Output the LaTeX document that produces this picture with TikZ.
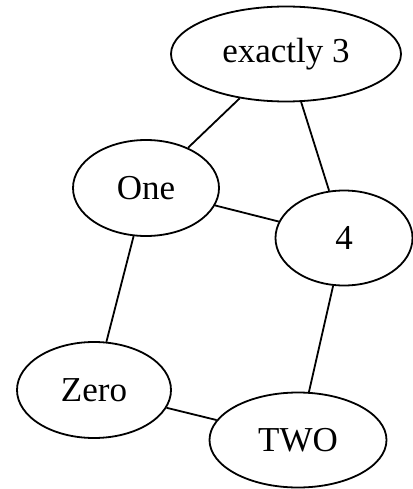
\documentclass[tikz,border=0pt]{standalone}
\usepackage{fontspec}
\setmainfont{Liberation Serif}
\usetikzlibrary{shapes.geometric}
\tikzset{
	blob/.style={draw, ellipse, line width=1.8pt, inner sep=0pt, font=\fontsize{35}{40}\selectfont},
	link/.style={line width=1.8pt}
}

\begin{document}
\begin{tikzpicture}[x=1pt, y=-1pt]
			%%%%% START %%%%%
			\useasboundingbox (0, 0) rectangle (412, 489);
			\fill[white] (0, 0) rectangle (412, 489);
			
			\node[blob, minimum width=230, minimum height=95] (three) at (286, 54) {exactly 3};
			\node[blob, minimum width=146, minimum height=96] (one) at (146, 188) {One};
			\node[blob, minimum width=137, minimum height=95] (four) at (344, 238) {4};
			\node[blob, minimum width=154, minimum height=96] (zero) at (94, 390) {Zero};
			\node[blob, minimum width=177, minimum height=95] (two) at (298, 440) {TWO};
			
			\draw[link] (three) -- (one);
			\draw[link] (three) -- (four);
			\draw[link] (one) -- (four);
			\draw[link] (one) -- (zero);
			\draw[link] (four) -- (two);
			\draw[link] (zero) -- (two);
			%%%%% END %%%%%
\end{tikzpicture}
\end{document}
